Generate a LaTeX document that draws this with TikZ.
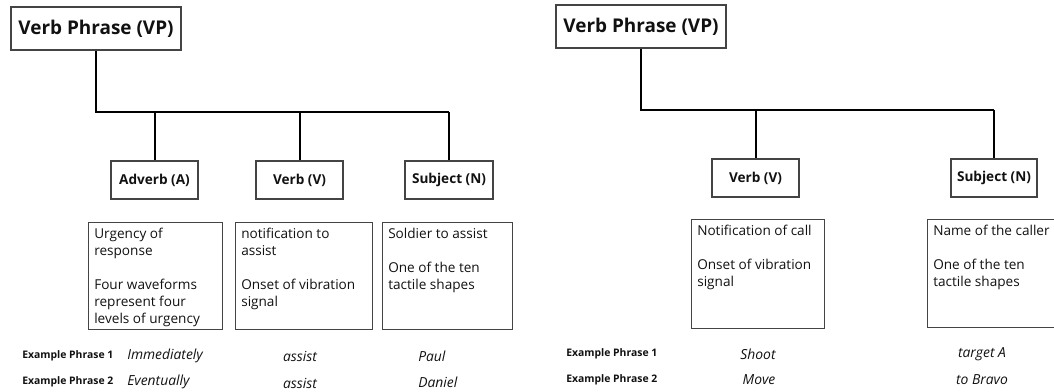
\documentclass[tikz,border=0pt]{standalone}
\usepackage{fontspec}
\setmainfont{Open Sans}
\definecolor{boxline}{HTML}{444444}
\definecolor{ink}{HTML}{111111}
\tikzset{
  px/.style={x=0.75pt,y=-0.75pt},
  topbox/.style={draw=boxline,line width=0.8pt,inner sep=0pt,minimum width=127.5pt,minimum height=32.25pt,
    font=\fontsize{14.2}{16}\selectfont\bfseries,text=ink},
  catbox/.style={draw=boxline,line width=0.8pt,inner sep=0pt,minimum height=28.5pt,
    font=\fontsize{10.2}{12}\selectfont\bfseries,text=ink},
  descbox/.style={draw=boxline,line width=0.8pt,inner sep=0pt,anchor=north west},
  desctext/.style={anchor=north west,inner sep=0pt,align=left,text=ink,
    font=\fontsize{10.2}{12.75}\selectfont},
  conn/.style={draw=black,line width=1.5pt},
  exlabel/.style={anchor=west,inner sep=0pt,text=ink,font=\fontsize{7.8}{9}\selectfont\bfseries},
  exword/.style={inner sep=0pt,text=ink,font=\fontsize{10.4}{12}\selectfont\itshape},
}
\begin{document}
\begin{tikzpicture}[px]
\useasboundingbox (0,0) rectangle (1054,392);
% ---------------- left tree ----------------
\node[topbox] (vpL) at (96,28.5) {Verb Phrase (VP)};
\node[catbox,minimum width=65.25pt] (advL) at (154.5,180) {Adverb (A)};
\node[catbox,minimum width=65.25pt] (verbL) at (299.5,180) {Verb (V)};
\node[catbox,minimum width=66pt] (subjL) at (449,180) {Subject (N)};
\coordinate (jL1) at (96,112);
\coordinate (jL2) at (154.5,112);
\coordinate (jL3) at (299.5,112);
\coordinate (jL4) at (449,112);
\draw[conn] (vpL.south) -- (jL1) -- (jL4);
\draw[conn] (jL2) -- (advL.north);
\draw[conn] (jL3) -- (verbL.north);
\draw[conn] (jL4) -- (subjL.north);

\node[descbox,minimum width=100.5pt,minimum height=80.25pt] (dAdv) at (88,222) {};
\node[desctext] (tAdv) at ([shift={(6,6)}]dAdv.north west) {Urgency of\\response\\[12.75pt]Four waveforms\\represent four\\levels of urgency};
\node[descbox,minimum width=102.75pt,minimum height=80.25pt] (dVerb) at (235,222) {};
\node[desctext] (tVerb) at ([shift={(6,6)}]dVerb.north west) {notification to\\assist\\[12.75pt]Onset of vibration\\signal};
\node[descbox,minimum width=97.5pt,minimum height=80.25pt] (dSubj) at (382,222) {};
\node[desctext] (tSubj) at ([shift={(6,6)}]dSubj.north west) {Soldier to assist\\[12.75pt]One of the ten\\tactile shapes};

\node[exlabel] (e1L) at (22,356) {Example Phrase 1};
\node[exlabel] (e2L) at (22,382) {Example Phrase 2};
\node[exword,anchor=west] (a1) at (127,356) {Immediately};
\node[exword,anchor=west] (a2) at (127,382) {Eventually};
\node[exword] (v1) at (300,356) {assist};
\node[exword] (v2) at (300,383) {assist};
\node[exword,anchor=west] (s1) at (418,356) {Paul};
\node[exword,anchor=west] (s2) at (418,382) {Daniel};

% ---------------- right tree ----------------
\node[topbox] (vpR) at (641,26.5) {Verb Phrase (VP)};
\node[catbox,minimum width=65.25pt] (verbR) at (755.5,178) {Verb (V)};
\node[catbox,minimum width=64.5pt] (subjR) at (994,178) {Subject (N)};
\coordinate (jR1) at (641,110);
\coordinate (jR2) at (755.5,110);
\coordinate (jR3) at (994,110);
\draw[conn] (vpR.south) -- (jR1) -- (jR3);
\draw[conn] (jR2) -- (verbR.north);
\draw[conn] (jR3) -- (subjR.north);

\node[descbox,minimum width=99.75pt,minimum height=81.75pt] (dVerbR) at (691,219) {};
\node[desctext] (tVerbR) at ([shift={(6,6)}]dVerbR.north west) {Notification of call\\[12.75pt]Onset of vibration\\signal};
\node[descbox,minimum width=102pt,minimum height=81pt] (dSubjR) at (927,219) {};
\node[desctext] (tSubjR) at ([shift={(6,6)}]dSubjR.north west) {Name of the caller\\[12.75pt]One of the ten\\tactile shapes};

\node[exlabel] (e1R) at (566,354) {Example Phrase 1};
\node[exlabel] (e2R) at (566,380) {Example Phrase 2};
\node[exword] (v1R) at (758,354) {Shoot};
\node[exword] (v2R) at (759,380) {Move};
\node[exword] (s1R) at (982,354) {target A};
\node[exword] (s2R) at (982,380) {to Bravo};
\end{tikzpicture}
\end{document}
